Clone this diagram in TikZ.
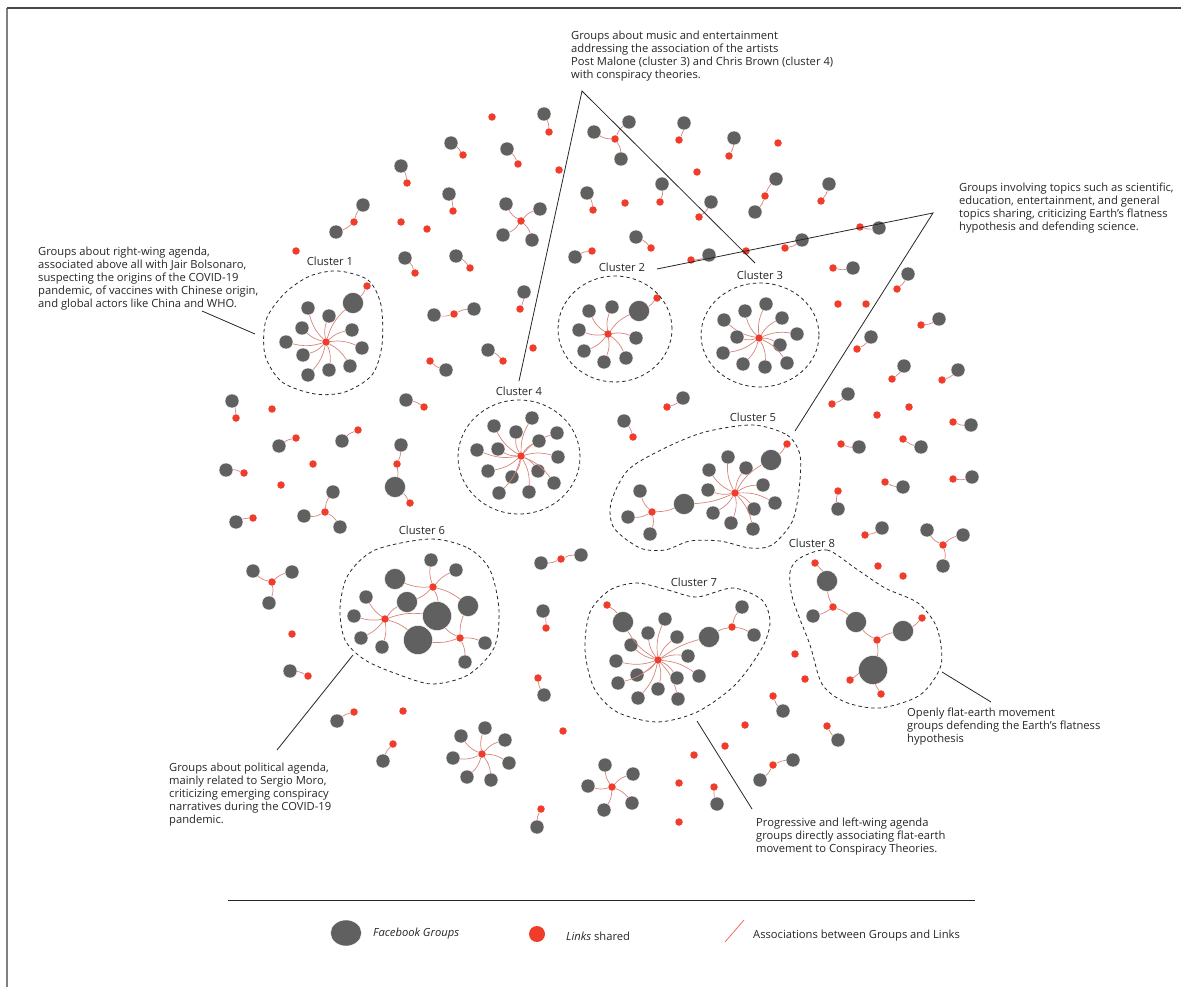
\documentclass[tikz,border=0pt]{standalone}
\usepackage{fontspec}
\setmainfont{Open Sans}
\usetikzlibrary{shapes.geometric}
\definecolor{grpgray}{HTML}{606060}
\definecolor{lnkred}{HTML}{F03C2A}
\definecolor{assocred}{HTML}{D7857A}
\definecolor{inkgray}{HTML}{262626}

\begin{document}
\begin{tikzpicture}[x=1pt,y=-1pt,
  grp/.style={circle,fill=grpgray,draw=white,line width=0.4pt,inner sep=0,minimum size=14pt},
  bgrp/.style={grp,minimum size=21pt},
  hgrp/.style={grp,minimum size=29pt},
  lnk/.style={circle,fill=lnkred,inner sep=0,minimum size=7.5pt},
  assoc/.style={draw=assocred,line width=0.7pt},
  hull/.style={draw=inkgray,dash pattern=on 3.5pt off 3pt,line width=0.8pt},
  note/.style={anchor=north west,align=left,inner sep=0,text=inkgray,font=\fontsize{11.2}{13}\selectfont},
  clab/.style={inner sep=0,text=inkgray,font=\fontsize{11.2}{13}\selectfont},
  leader/.style={draw=inkgray,line width=0.8pt}]

\useasboundingbox (0,0) rectangle (1181,987);

%%%Frame
\draw[draw=gray,line width=2pt] (7,8) -- (7,987);
\draw[draw=inkgray!85,line width=1.2pt] (7,8) -- (1181,8);

%%%Cluster 1
\begin{scope}
%Hub, groups and spokes
\node[lnk] (c1) at (326,342) {};
\foreach \x/\y [count=\i] in {308/308,329/316,302/328,352/330,286/342,362/348,303/355,350/366,329/370,308/375} {\node[grp] (c1g\i) at (\x,\y) {}; \draw[assoc] (c1) to[bend left=15] (c1g\i);}
%Big group and its own link
\node[bgrp] (c1b) at (353,303) {};
\node[lnk] (c1l) at (367,286) {};
\draw[assoc] (c1) to[bend left=15] (c1b);
\draw[assoc] (c1b) to[bend right=10] (c1l);
%Outline and label
\draw[hull] plot[smooth cycle] coordinates {(338,271) (368,280) (381,305) (382,345) (372,375) (345,392) (315,394) (282,382) (265,355) (266,320) (285,293) (310,276)};
\node[clab] (c1t) at (330,261) {Cluster 1};
\end{scope}

%%%Cluster 2
\begin{scope}
\node[lnk] (c2) at (608,334) {};
\foreach \x/\y [count=\i] in {589/311,612/307,579/330,636/338,584/351,604/362,626/358} {\node[grp] (c2g\i) at (\x,\y) {}; \draw[assoc] (c2) to[bend left=15] (c2g\i);}
\node[bgrp] (c2b) at (639,311) {};
\node[lnk] (c2l) at (657,298) {};
\draw[assoc] (c2) to[bend left=15] (c2b);
\draw[assoc] (c2b) to[bend right=10] (c2l);
\draw[hull] (615,329) ellipse [x radius=57pt,y radius=53pt];
\node[clab] (c2t) at (622,267) {Cluster 2};
\end{scope}

%%%Cluster 3
\begin{scope}
\node[lnk] (c3) at (759,338) {};
\foreach \x/\y [count=\i] in {745/311,766/304,782/318,724/320,737/337,797/334,780/345,723/353,743/364,765/367,787/363} {\node[grp] (c3g\i) at (\x,\y) {}; \draw[assoc] (c3) to[bend left=15] (c3g\i);}
\draw[hull] (760,335) ellipse [x radius=59pt,y radius=52pt];
\node[clab] (c3t) at (760,275) {Cluster 3};
\end{scope}

%%%Cluster 4
\begin{scope}
\node[lnk] (c4) at (521,456) {};
\foreach \x/\y [count=\i] in {494/426,516/432,532/418,557/433,539/441,477/450,498/449,558/457,488/471,538/471,512/477,554/483,499/493,529/492} {\node[grp] (c4g\i) at (\x,\y) {}; \draw[assoc] (c4) to[bend left=15] (c4g\i);}
\draw[hull] (519,457) ellipse [x radius=61pt,y radius=57pt];
\node[clab] (c4t) at (519,391) {Cluster 4};
\end{scope}

%%%Cluster 5
\begin{scope}
%Main hub
\node[lnk] (c5) at (735,493) {};
\foreach \x/\y [count=\i] in {728/457,709/470,746/468,763/485,775/503,754/509,753/529,731/523,713/513,708/490} {\node[grp] (c5g\i) at (\x,\y) {}; \draw[assoc] (c5) to[bend left=15] (c5g\i);}
\node[bgrp] (c5b1) at (771,460) {};
\node[bgrp] (c5b2) at (684,504) {};
\node[lnk] (c5l1) at (787,444) {};
\draw[assoc] (c5) to[bend left=15] (c5b1);
\draw[assoc] (c5) to[bend left=10] (c5b2);
\draw[assoc] (c5b1) to[bend right=10] (c5l1);
%Second hub
\node[lnk] (c5l2) at (652,512) {};
\draw[assoc] (c5b2) to[bend left=10] (c5l2);
\foreach \x/\y [count=\i] in {640/491,628/517,650/534} {\node[grp] (c5h\i) at (\x,\y) {}; \draw[assoc] (c5l2) to[bend left=15] (c5h\i);}
\draw[hull] plot[smooth cycle] coordinates {(753,425) (787,435) (800,455) (799,490) (792,522) (772,545) (750,548) (720,541) (690,541) (665,550) (640,548) (614,528) (611,503) (628,470) (665,448) (705,432)};
\node[clab] (c5t) at (753,417) {Cluster 5};
\end{scope}

%%%Cluster 6
\begin{scope}
%Three hubs
\node[lnk] (c6a) at (433,587) {};
\node[lnk] (c6b) at (385,619) {};
\node[lnk] (c6c) at (460,638) {};
%Groups
\foreach \x/\y [count=\i] in {431/560,456/570,366/597,354/616,361/638,485/643,382/647,465/662} \node[grp] (c6g\i) at (\x,\y) {};
\node[bgrp] (c6b1) at (395,579) {};
\node[bgrp] (c6b2) at (407,602) {};
\node[bgrp] (c6b3) at (468,606) {};
\node[hgrp] (c6h1) at (437,616) {};
\node[hgrp] (c6h2) at (418,640) {};
%Associations
\foreach \a/\b in {c6a/c6g1,c6a/c6g2,c6a/c6b1,c6a/c6b2,c6a/c6b3,c6a/c6h1,c6b/c6g3,c6b/c6g4,c6b/c6g5,c6b/c6g7,c6b/c6b2,c6b/c6h2,c6b/c6h1,c6c/c6b3,c6c/c6g6,c6c/c6g8,c6c/c6h2,c6c/c6h1} \draw[assoc] (\a) to[bend left=12] (\b);
\draw[hull] plot[smooth cycle] coordinates {(430,539) (468,548) (490,570) (499,610) (494,648) (468,675) (432,684) (397,674) (365,660) (345,640) (340,608) (348,575) (375,550)};
\node[clab] (c6t) at (422,530) {Cluster 6};
\end{scope}

%%%Cluster 7
\begin{scope}
\node[lnk] (c7) at (658,660) {};
\foreach \x/\y [count=\i] in {648/633,665/619,677/637,631/645,616/661,637/675,618/683,638/698,658/689,678/699,677/678,699/676,688/656} {\node[grp] (c7g\i) at (\x,\y) {}; \draw[assoc] (c7) to[bend left=15] (c7g\i);}
\node[bgrp] (c7b1) at (623,622) {};
\node[bgrp] (c7b2) at (709,637) {};
\node[lnk] (c7l1) at (607,605) {};
\node[lnk] (c7l2) at (732,627) {};
\draw[assoc] (c7) to[bend left=15] (c7b1);
\draw[assoc] (c7) to[bend left=10] (c7b2);
\draw[assoc] (c7b1) to[bend right=10] (c7l1);
\draw[assoc] (c7b2) to[bend left=10] (c7l2);
\foreach \x/\y [count=\i] in {742/607,754/635} {\node[grp] (c7h\i) at (\x,\y) {}; \draw[assoc] (c7l2) to[bend left=12] (c7h\i);}
\draw[hull] plot[smooth cycle] coordinates {(637,583) (668,590) (697,597) (733,588) (762,600) (770,622) (762,648) (735,685) (697,712) (657,722) (617,712) (594,688) (585,650) (590,612) (610,590)};
\node[clab] (c7t) at (694,582) {Cluster 7};
\end{scope}

%%%Cluster 8
\begin{scope}
\foreach \x/\y [count=\i] in {815/563,833/607,877/640,922/618,850/680,881/694} \node[lnk] (c8l\i) at (\x,\y) {};
\node[bgrp] (c8g1) at (827,581) {};
\node[grp] (c8g2) at (813,616) {};
\node[bgrp] (c8g3) at (856,622) {};
\node[bgrp] (c8g4) at (903,631) {};
\node[hgrp] (c8g5) at (873,670) {};
\foreach \a/\b in {c8l1/c8g1,c8l2/c8g1,c8l2/c8g2,c8l2/c8g3,c8l3/c8g3,c8l3/c8g4,c8l3/c8g5,c8l4/c8g4,c8l5/c8g5,c8l6/c8g5} \draw[assoc] (\a) to[bend left=10] (\b);
\draw[hull] plot[smooth cycle] coordinates {(800,558) (827,550) (855,568) (885,588) (918,603) (937,628) (941,665) (920,695) (880,708) (845,702) (822,684) (810,645) (793,600) (790,572)};
\node[clab] (c8t) at (812,543) {Cluster 8};
\end{scope}

%%%Scattered groups with one link
\foreach \x/\y/\u/\v [count=\i] in {544/114/549/132,451/143/463/155,507/149/518/164,401/166/407/183,449/194/453/211,405/258/415/273,456/256/470/268,524/292/520/309,684/123/679/140,734/138/729/156,662/184/660/202,587/193/593/210,711/202/699/217,636/237/651/248,575/257/592/251,709/255/691/260,802/240/785/248,829/184/821/201,879/228/860/227,853/268/833/268,908/274/897/289,939/319/921/325,871/337/857/349,904/366/892/379,958/370/942/380,848/394/832/404,971/425/953/422,859/447/841/444,921/447/903/439,903/487/885/482,972/477/953/479,882/528/865/535,838/509/838/491,683/398/667/407,624/421/633/437,488/350/503/361,446/370/430/361,232/401/236/418,406/400/424/407,279/446/296/438,342/441/358/430,226/470/244/473,236/522/253/518,543/611/546/628,290/671/308/676,337/721/354/712,383/761/393/744,544/695/538/678,537/827/541/809,717/804/714/787,783/711/773/696,838/740/827/726} {\node[grp] (pg\i) at (\x,\y) {}; \node[lnk] (pl\i) at (\u,\v) {}; \draw[assoc] (pg\i) to[bend left=12] (pl\i);}

%%%Two groups sharing one link
\foreach \x/\y/\u/\v/\s/\t [count=\i] in {434/315/454/314/474/309,363/205/354/222/336/232,776/179/765/196/755/212,541/563/561/559/581/555,760/780/773/765/793/760} {\node[grp] (qa\i) at (\x,\y) {}; \node[lnk] (ql\i) at (\u,\v) {}; \node[grp] (qb\i) at (\s,\t) {}; \draw[assoc] (ql\i) to[bend left=12] (qa\i); \draw[assoc] (ql\i) to[bend left=12] (qb\i);}
%Chain with a big group
\node[grp] (k1) at (401,445) {};
\node[lnk] (k2) at (397,464) {};
\node[bgrp] (k3) at (395,487) {};
\node[lnk] (k4) at (410,503) {};
\draw[assoc] (k1) to[bend left=10] (k2);
\draw[assoc] (k2) to[bend left=10] (k3);
\draw[assoc] (k3) to[bend left=10] (k4);

%%%Small stars
\node[lnk] (s1) at (521,221) {};
\foreach \x/\y [count=\i] in {506/204,540/209,503/235,532/240} {\node[grp] (s1g\i) at (\x,\y) {}; \draw[assoc] (s1) to[bend left=15] (s1g\i);}
\node[lnk] (s2) at (615,139) {};
\foreach \x/\y [count=\i] in {594/132,629/122,621/159} {\node[grp] (s2g\i) at (\x,\y) {}; \draw[assoc] (s2) to[bend left=15] (s2g\i);}
\node[lnk] (s3) at (325,512) {};
\foreach \x/\y [count=\i] in {333/492,304/516,340/527} {\node[grp] (s3g\i) at (\x,\y) {}; \draw[assoc] (s3) to[bend left=15] (s3g\i);}
\node[lnk] (s4) at (272,582) {};
\foreach \x/\y [count=\i] in {253/571,292/572,269/603} {\node[grp] (s4g\i) at (\x,\y) {}; \draw[assoc] (s4) to[bend left=15] (s4g\i);}
\node[lnk] (s5) at (482,754) {};
\foreach \x/\y [count=\i] in {485/728,461/736,505/740,453/758,509/763,467/777,491/780} {\node[grp] (s5g\i) at (\x,\y) {}; \draw[assoc] (s5) to[bend left=15] (s5g\i);}
\node[lnk] (s6) at (612,787) {};
\foreach \x/\y [count=\i] in {605/765,633/774,588/786,604/810,632/803} {\node[grp] (s6g\i) at (\x,\y) {}; \draw[assoc] (s6) to[bend left=15] (s6g\i);}
\node[lnk] (s7) at (943,545) {};
\foreach \x/\y [count=\i] in {927/530,963/535,943/566} {\node[grp] (s7g\i) at (\x,\y) {}; \draw[assoc] (s7) to[bend left=15] (s7g\i);}

%%%Links with no group drawn
\foreach \x/\y [count=\i] in {492/117,559/170,401/222,427/229,296/251,778/143,697/172,625/203,746/251,838/304,866/304,877/415,909/407,533/348,272/409,313/464,281/485,292/634,403/711,563/731,694/755,679/783,679/822,725/746,745/725,795/654,805/679,878/566,903/576} \node[lnk] (sl\i) at (\x,\y) {};

%%%Notes and leader lines
\node[note] (n1) at (38,247) {Groups about right-wing agenda,\\associated above all with Jair Bolsonaro,\\suspecting the origins of the COVID-19\\pandemic, of vaccines with Chinese origin,\\and global actors like China and WHO.};
\coordinate (n1a) at (202,311); \coordinate (n1b) at (255,334);
\draw[leader] (n1a) -- (n1b);
\node[note] (n2) at (571,31) {Groups about music and entertainment\\addressing the association of the artists\\Post Malone (cluster 3) and Chris Brown (cluster 4)\\with conspiracy theories.};
\coordinate (n2a) at (519,381); \coordinate (n2b) at (582,91); \coordinate (n2c) at (755,263);
\draw[leader] (n2a) -- (n2b) -- (n2c);
\node[note] (n3) at (959,183) {Groups involving topics such as scientific,\\education, entertainment, and general\\topics sharing, criticizing Earth’s flatness\\hypothesis and defending science.};
\coordinate (n3a) at (657,269); \coordinate (n3b) at (933,213); \coordinate (n3c) at (795,431);
\draw[leader] (n3a) -- (n3b) -- (n3c);
\node[note] (n4) at (169,763) {Groups about political agenda,\\mainly related to Sergio Moro,\\criticizing emerging conspiracy\\narratives during the COVID-19\\pandemic.};
\coordinate (n4a) at (353,655); \coordinate (n4b) at (277,750);
\draw[leader] (n4a) -- (n4b);
\node[note] (n5) at (756,818) {Progressive and left-wing agenda\\groups directly associating flat-earth\\movement to Conspiracy Theories.};
\coordinate (n5a) at (697,721); \coordinate (n5b) at (752,809);
\draw[leader] (n5a) -- (n5b);
\node[note] (n6) at (907,708) {Openly flat-earth movement\\groups defending the Earth’s flatness\\hypothesis};
\coordinate (n6a) at (942,672); \coordinate (n6b) at (991,702);
\draw[leader] (n6a) -- (n6b);

%%%Legend
\coordinate (lg0) at (228,900); \coordinate (lg1) at (975,900);
\draw[leader] (lg0) -- (lg1);
\node[grp,ellipse,minimum width=31pt,minimum height=26pt] (lgg) at (346,933) {};
\node[note,anchor=west] (lgt1) at (373,934) {\textit{Facebook Groups}};
\node[lnk,minimum size=16pt] (lgl) at (537,934) {};
\node[note,anchor=west] (lgt2) at (566,936) {\textit{Links} shared};
\coordinate (lga) at (725,942); \coordinate (lgb) at (744,920);
\draw[assoc,draw=lnkred!85] (lga) -- (lgb);
\node[note,anchor=west] (lgt3) at (753,936) {Associations between Groups and Links};

\end{tikzpicture}
\end{document}
